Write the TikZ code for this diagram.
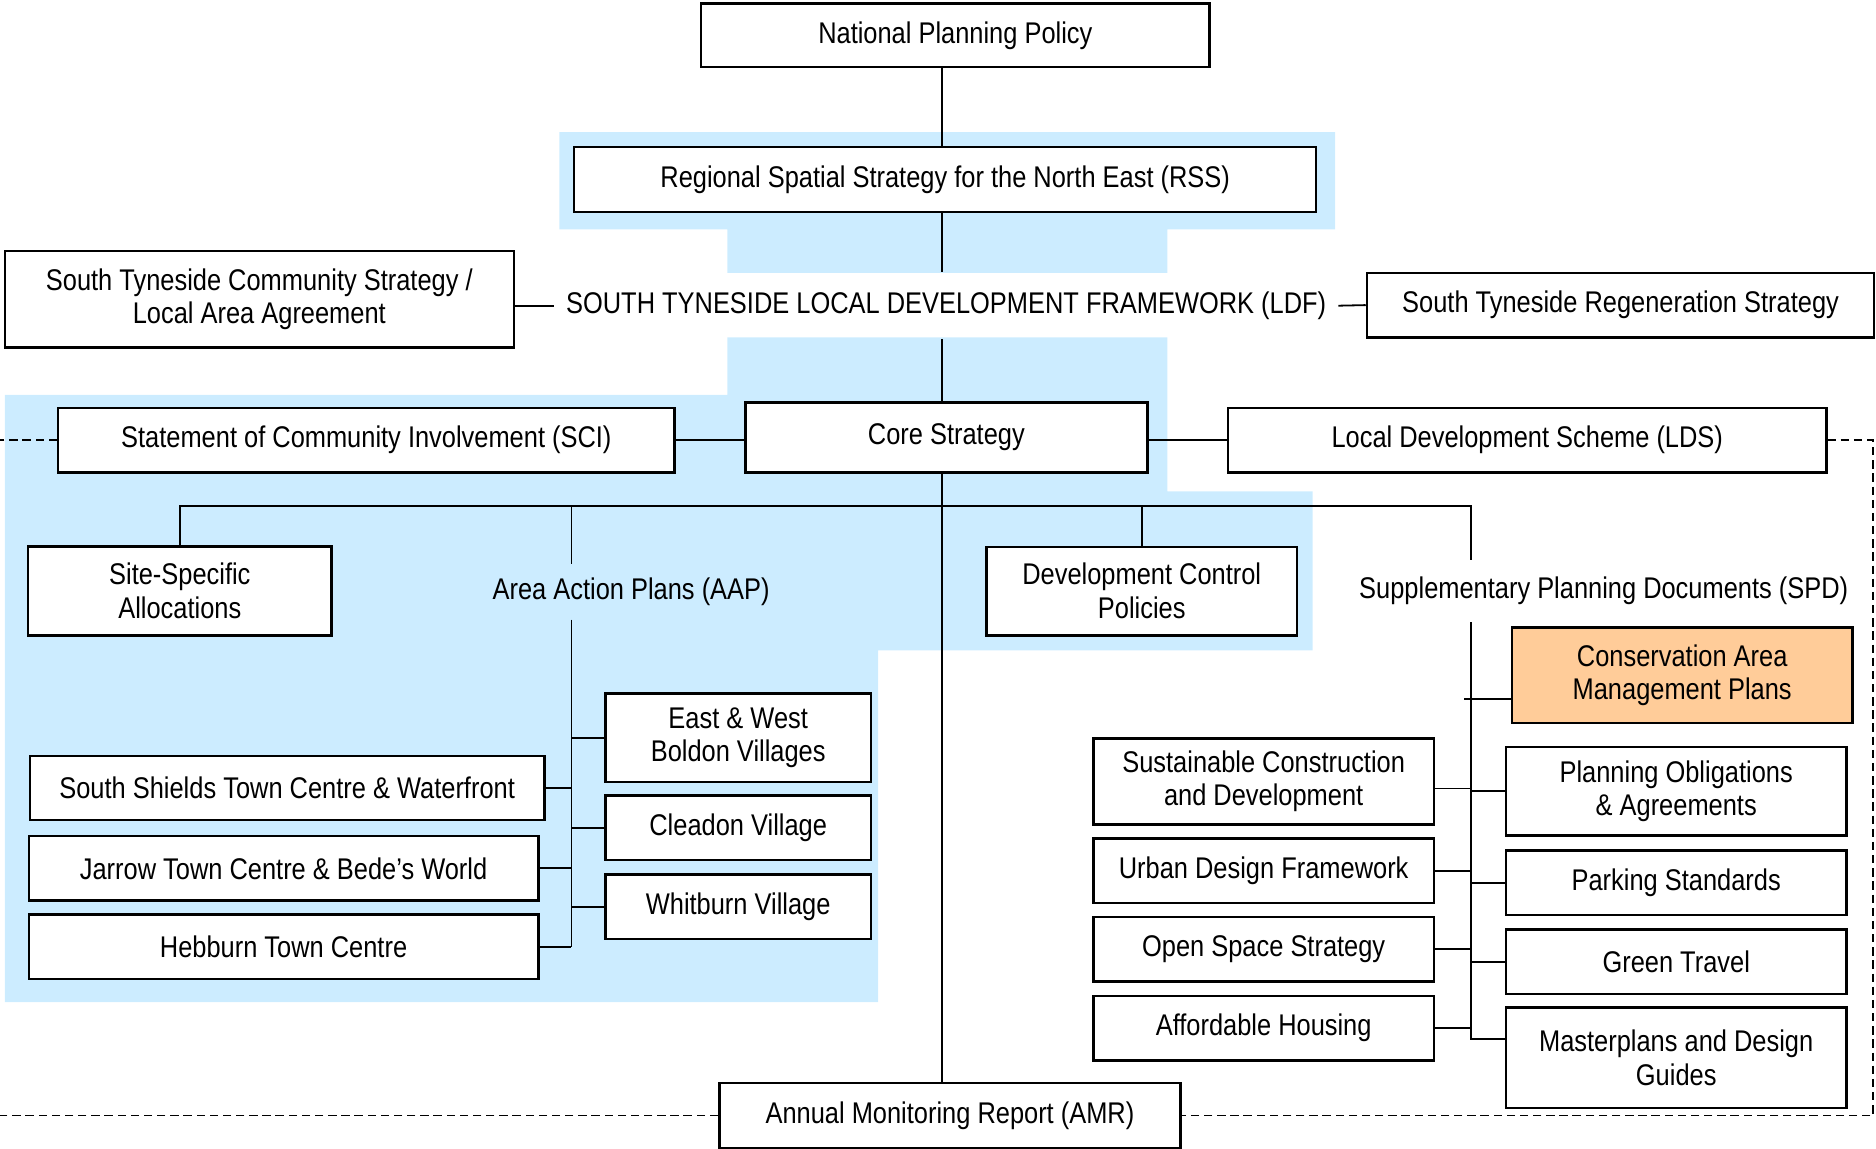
\documentclass[tikz,border=0pt]{standalone}
\usepackage{fontspec}
\setmainfont{Liberation Sans}[FakeStretch=0.85]
\usepackage{tikz}
\usetikzlibrary{calc, % for shifted join points
                backgrounds} % for the blue panels

\definecolor{ldfblue}{RGB}{204,236,255}
\definecolor{spdorange}{RGB}{255,204,153}

\begin{document}
\begin{tikzpicture}[x=0.5pt, y=-0.5pt,
                    font=\fontsize{12.5}{14}\selectfont,
                    Box/.style={draw, line width=1pt, fill=white, align=center, inner sep=0pt, minimum height=27pt},
                    Label/.style={align=center, inner sep=0pt, minimum height=24pt},
                    Link/.style={line width=0.75pt},
                    Dash/.style={line width=0.7pt, dash pattern=on 3.5pt off 2pt}
                    ]
    \useasboundingbox (0,0) rectangle (1568,960);

    % TOP %
    \node[Box, minimum width=212.5pt, minimum height=26.5pt] (NPP) at (798.5,29.5) {National Planning Policy};
    \node[Box, minimum width=310pt] (RSS) at (790,150) {Regional Spatial Strategy for the North East (RSS)};
    \node[inner sep=0pt, minimum width=327.5pt, minimum height=27.5pt] (LDF) at (790.8,255.5) {SOUTH TYNESIDE LOCAL DEVELOPMENT FRAMEWORK (LDF)};
    \node[Box, minimum width=212.75pt, minimum height=40.3pt] (Comm) at (216.75,250.3) {South Tyneside Community Strategy /\\Local Area Agreement};
    \node[Box, minimum width=212pt] (Regen) at (1354.5,255) {South Tyneside Regeneration Strategy};

    % CORE ROW %
    \node[Box, minimum width=257.5pt] (SCI) at (306.2,367.8) {Statement of Community Involvement (SCI)};
    \node[Box, minimum width=168pt, minimum height=29.2pt] (Core) at (791,365.6) {Core Strategy};
    \node[Box, minimum width=250pt] (LDS) at (1276.5,367.8) {Local Development Scheme (LDS)};

    % SECOND TIER %
    \node[Box, minimum width=126.75pt, minimum height=37.25pt] (Site) at (150.3,494) {Site-Specific\\Allocations};
    \node[Label, minimum height=23pt] (AAP) at (527.5,494.5) {Area Action Plans (AAP)};
    \node[Box, minimum width=129.7pt, minimum height=37pt] (DCP) at (954.3,494) {Development Control\\Policies};
    \node[Label, minimum height=25.7pt] (SPD) at (1340.4,493.8) {Supplementary Planning Documents (SPD)};

    % AREA ACTION PLANS %
    \node[Box, minimum width=111pt, minimum height=37pt] (EastWest) at (617,616.6) {East \& West\\Boldon Villages};
    \node[Box, minimum width=111pt] (Cleadon) at (617,691.9) {Cleadon Village};
    \node[Box, minimum width=111pt] (Whitburn) at (617,757.9) {Whitburn Village};
    \node[Box, minimum width=215pt, minimum height=26.65pt] (SShields) at (240,658.7) {South Shields Town Centre \& Waterfront};
    \node[Box, minimum width=213pt] (Jarrow) at (237,725.8) {Jarrow Town Centre \& Bede’s World};
    \node[Box, minimum width=213pt] (Hebburn) at (237,791.5) {Hebburn Town Centre};

    % SUPPLEMENTARY PLANNING DOCUMENTS %
    \node[Box, fill=spdorange, minimum width=142.25pt, minimum height=40pt] (Cons) at (1406,564.3) {Conservation Area\\Management Plans};
    \node[Box, minimum width=142.25pt, minimum height=37pt] (Oblig) at (1401,661.3) {Planning Obligations\\\& Agreements};
    \node[Box, minimum width=142.25pt] (Parking) at (1401,737.9) {Parking Standards};
    \node[Box, minimum width=142.25pt] (Green) at (1401,803.8) {Green Travel};
    \node[Box, minimum width=142.25pt, minimum height=42pt] (Master) at (1401,884.2) {Masterplans and Design\\Guides};
    \node[Box, minimum width=142.2pt, minimum height=35.9pt] (Sustain) at (1056.2,653.1) {Sustainable Construction\\and Development};
    \node[Box, minimum width=142.2pt] (Urban) at (1056.2,727.7) {Urban Design Framework};
    \node[Box, minimum width=142.2pt] (OpenSp) at (1056.2,793.3) {Open Space Strategy};
    \node[Box, minimum width=142.2pt] (Afford) at (1056.2,859.3) {Affordable Housing};

    % BOTTOM %
    \node[Box, minimum width=192.75pt] (AMR) at (794,932.4) {Annual Monitoring Report (AMR)};

    % JOIN POINTS %
    \coordinate (spine) at (787.5,0);
    \coordinate (aapStem) at (477.6,423);
    \coordinate (spdStem) at (1229.3,423);
    \coordinate (westEdge) at (0,0);
    \coordinate (eastEdge) at (1565.6,0);
    \coordinate (consIn) at ([yshift=-10pt]Cons.west);
    \coordinate (masterIn) at ([yshift=-13.5pt]Master.north west);

    % BLUE PANELS %
    \begin{scope}[on background layer]
    \fill[ldfblue] (467.5,110.4) -- (1116,110.4) -- (1116,191.7) -- (975.8,191.7) -- (975.8,228)
        -- (608,228) -- (608,191.7) -- (467.5,191.7) -- cycle;
    \fill[ldfblue] (608,282) -- (975.8,282) -- (975.8,410.6) -- (1097,410.6) -- (1097,543.6)
        -- (734,543.6) -- (734,837.5) -- (4,837.5) -- (4,330) -- (608,330) -- cycle;
    \end{scope}

    % SPINE %
    \foreach \a/\b in {NPP/RSS, RSS/LDF, LDF/Core, Core/AMR}{
    \draw[Link] (\a.south -| spine) -- (\b.north -| spine);
    }

    % SIDE LINKS %
    \draw[Link] (LDF.west) -- (LDF.west -| Comm.east);
    \draw[Link] (LDF.east) -- (Regen.west);
    \draw[Link] (SCI.east) -- (SCI.east -| Core.west);
    \draw[Link] (LDS.west) -- (LDS.west -| Core.east);

    % TIER BUS %
    \draw[Link] (Site.north) |- (spdStem) -- (spdStem |- SPD.north);
    \draw[Link] (aapStem) -- (aapStem |- AAP.north);
    \draw[Link] (DCP.north) -- (DCP.north |- spdStem);

    % AAP BRANCH %
    \draw[Link] (aapStem |- AAP.south) -- (aapStem |- Hebburn.east);
    \foreach \n in {SShields, Jarrow, Hebburn}{
    \draw[Link] (\n.east) -- (\n.east -| aapStem);
    }
    \foreach \n in {EastWest, Cleadon, Whitburn}{
    \draw[Link] (\n.west) -- (\n.west -| aapStem);
    }

    % SPD BRANCH %
    \draw[Link] (spdStem |- SPD.south) -- (masterIn -| spdStem) -- (masterIn);
    \draw[Link] (consIn) -- (consIn -| spdStem) -- ++(-6,0);
    \foreach \n/\dy in {Sustain/-3, Urban/0, OpenSp/0, Afford/0}{
    \draw[Link] ([yshift=\dy pt]\n.east) -- ([yshift=\dy pt]\n.east -| spdStem);
    }
    \foreach \n in {Oblig, Parking, Green}{
    \draw[Link] (\n.west) -- (\n.west -| spdStem);
    }

    % MONITORING LOOP %
    \draw[Dash] (SCI.west) -- (SCI.west -| westEdge);
    \draw[Dash] (AMR.west) -- (AMR.west -| westEdge);
    \draw[Dash] (LDS.east) -| (eastEdge |- AMR.east) -- (AMR.east);

\end{tikzpicture}
\end{document}
